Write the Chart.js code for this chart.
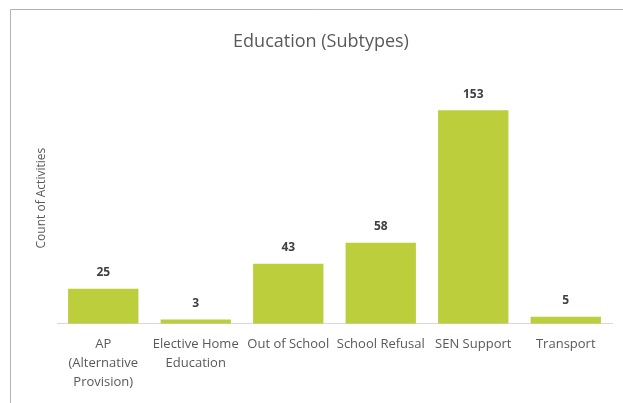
<!DOCTYPE html>
<html>
<head>
<meta charset="utf-8">
<script src="https://cdn.jsdelivr.net/npm/chart.js@4/dist/chart.umd.min.js"></script>
<style>
  html, body { margin: 0; padding: 0; background: #fff; overflow: hidden; }
  #wrap { position: relative; width: 623px; height: 403px; }
</style>
</head>
<body>
<div id="wrap"><canvas id="eduChart" width="623" height="403"></canvas></div>
<script>
const subtypes = [
  ['AP', '(Alternative', 'Provision)'],
  ['Elective Home', 'Education'],
  'Out of School',
  'School Refusal',
  'SEN Support',
  'Transport'
];
const activityCounts = [25, 3, 43, 58, 153, 5];

const barColor = '#BCCE3C';
const textGrey = '#595959';

// left and top edge of the chart object's frame
const framePlugin = {
  id: 'frame',
  beforeDraw(chart) {
    const ctx = chart.ctx;
    ctx.save();
    ctx.strokeStyle = '#b3b3b3';
    ctx.lineWidth = 1;
    ctx.beginPath();
    ctx.moveTo(10.5, chart.height);
    ctx.lineTo(10.5, 9.5);
    ctx.lineTo(chart.width, 9.5);
    ctx.stroke();
    ctx.restore();
  }
};

// value printed above each bar
const valueLabels = {
  id: 'valueLabels',
  afterDatasetsDraw(chart) {
    const ctx = chart.ctx;
    const meta = chart.getDatasetMeta(0);
    ctx.save();
    ctx.font = 'bold 12px "Open Sans"';
    ctx.fillStyle = '#404040';
    ctx.textAlign = 'center';
    ctx.textBaseline = 'middle';
    meta.data.forEach((bar, i) => {
      ctx.fillText(String(activityCounts[i]), bar.x, bar.y - 16);
    });
    ctx.restore();
  }
};

const ctx = document.getElementById('eduChart').getContext('2d');
new Chart(ctx, {
  type: 'bar',
  data: {
    labels: subtypes,
    datasets: [{
      data: activityCounts,
      backgroundColor: barColor,
      barPercentage: 0.76,
      categoryPercentage: 1
    }]
  },
  options: {
    responsive: false,
    animation: false,
    layout: {
      padding: { left: 30, right: 11, top: 27, bottom: 0 }
    },
    scales: {
      x: {
        grid: { display: false, drawTicks: false },
        border: { display: true, color: '#d9d9d9', width: 1 },
        ticks: {
          color: textGrey,
          padding: 11,
          maxRotation: 0,
          autoSkip: false,
          font: { family: '"Open Sans"', size: 13, lineHeight: 1.47 }
        }
      },
      y: {
        min: 0,
        max: 180,
        grid: { display: false, drawTicks: false },
        border: { display: false },
        ticks: { display: false },
        title: {
          display: true,
          text: 'Count of Activities',
          color: textGrey,
          font: { family: '"Open Sans"', size: 12, lineHeight: 1.2 },
          padding: { top: 4, bottom: 8.6 }
        }
      }
    },
    plugins: {
      legend: { display: false },
      tooltip: { enabled: false },
      title: {
        display: true,
        text: 'Education (Subtypes)',
        color: textGrey,
        font: { family: '"Open Sans"', size: 18, weight: 'normal', lineHeight: 1.2 },
        padding: { top: 4, bottom: 20 }
      }
    }
  },
  plugins: [framePlugin, valueLabels]
});
</script>
</body>
</html>
